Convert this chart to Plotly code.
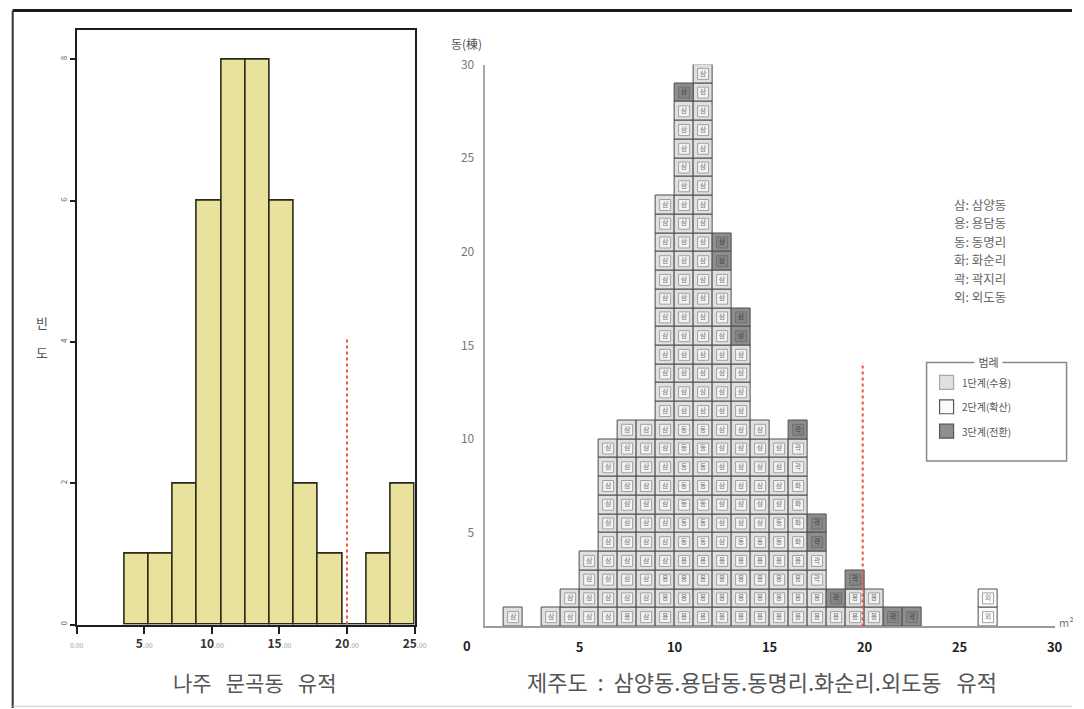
import plotly.graph_objects as go

W, H = 1084, 709
FONT = "Noto Sans CJK KR"

# ---------------- Left: 나주 문곡동 (histogram) ----------------
nj_bin_edges = [3.53, 5.32, 7.11, 8.90, 10.69, 12.48, 14.27, 16.06, 17.85, 19.64, 21.43, 23.22, 25.01]
nj_counts = [1, 1, 2, 6, 8, 8, 6, 2, 1, 0, 1, 2]
nj_xticks = [0, 5, 10, 15, 20, 25]
nj_xtick_main = ["0", "5", "10", "15", "20", "25"]
nj_yticks = [0, 2, 4, 6, 8]
nj_limit_x = 20.0
nj_limit_top = 4.05

# ---------------- Right: 제주도 (stacked unit boxes) ----------------
jeju_bins = [1, 2, 3, 4, 5, 6, 7, 8, 9, 10, 11, 12, 13, 14, 15, 16, 17, 18, 19, 20, 21, 22, 23, 24, 25, 26]
jeju_counts = [1, 0, 1, 2, 4, 10, 11, 11, 23, 29, 30, 21, 17, 11, 10, 11, 6, 2, 3, 2, 1, 1, 0, 0, 0, 2]
# stage of each box, bottom to top (1=수용, 2=확산, 3=전환)
jeju_stage = [
    "1", "", "1", "11", "1111",
    "1111111111",
    "1111111111" "1",
    "1111111111" "1",
    "1111111111" "1111111111" "111",
    "1111111111" "1111111111" "11111111" "3",
    "1111111111" "1111111111" "1111111111",
    "1111111111" "111111111" "33",
    "1111111111" "11111" "33",
    "1111111111" "1",
    "1111111111",
    "1111111111" "3",
    "1111" "33",
    "13",
    "113",
    "11",
    "3",
    "3",
    "", "", "",
    "22",
]
# site initial of each box, bottom to top
jeju_site = [
    "삼", "", "삼", "삼삼", "삼삼삼삼",
    "삼삼삼삼삼" "삼삼삼삼삼",
    "용삼삼삼삼" "삼삼삼삼삼" "삼",
    "삼삼삼삼삼" "삼삼삼삼삼" "삼",
    "용용용삼삼" "삼삼삼삼삼" "삼삼삼삼삼" "삼삼삼삼삼" "삼삼삼",
    "용용용용동" "동동동동동" "동삼삼삼삼" "삼삼삼삼삼" "삼삼삼삼삼" "삼삼삼삼",
    "용용용용동" "동동동동동" "동삼삼삼삼" "삼삼삼삼삼" "삼삼삼삼삼" "삼삼삼삼삼",
    "용용용용삼" "삼삼삼삼삼" "삼삼삼삼삼" "삼삼삼삼삼" "삼",
    "용용용용동" "삼삼삼삼삼" "삼삼삼삼삼" "삼삼",
    "용용용용동" "삼삼삼삼삼" "삼",
    "용용용용동" "동삼삼삼삼",
    "용용용용화" "화화화곽곽" "곽",
    "용용곽곽곽곽",
    "용곽",
    "용용곽",
    "용용",
    "곽",
    "곽",
    "", "", "",
    "외외",
]
jeju_xticks = [5, 10, 15, 20, 25, 30]
jeju_yticks = [5, 10, 15, 20, 25, 30]
jeju_limit_x = 19.9
jeju_limit_top = 14.1

site_key = ["삼: 삼양동", "용: 용담동", "동: 동명리", "화: 화순리", "곽: 곽지리", "외: 외도동"]
stage_names = ["1단계(수용)", "2단계(확산)", "3단계(전환)"]
stage_fill = {"1": "#e0e0e0", "2": "#fbfbfb", "3": "#8e8e8e"}
stage_inner = {"1": "#f3f3f3", "2": "#ffffff", "3": "#858585"}
stage_icon_line = ["#a8a8a8", "#555555", "#555555"]

# page-to-photo calibration (photo = A + B * page)
AX, BX = 6.3, 0.9826
AY, BY = 8.3, 0.988


def px(x):
    return max(0.0, (x - AX) / BX) / W


def py(y):
    return 1 - max(0.5, (y - AY) / BY) / H


fig = go.Figure()

# left histogram bars
centers = [(a + b) / 2 for a, b in zip(nj_bin_edges[:-1], nj_bin_edges[1:])]
widths = [b - a for a, b in zip(nj_bin_edges[:-1], nj_bin_edges[1:])]
fig.add_trace(go.Bar(
    x=centers, y=nj_counts, width=widths,
    marker=dict(color="#e9e29c", line=dict(color="#2a2a1a", width=1.6)),
    xaxis="x", yaxis="y", showlegend=False, hoverinfo="skip",
))
fig.add_trace(go.Scatter(
    x=[nj_limit_x, nj_limit_x], y=[0, nj_limit_top], mode="lines",
    line=dict(color="#e8553c", width=2, dash="dot"),
    xaxis="x", yaxis="y", showlegend=False, hoverinfo="skip",
))

# right: unit boxes
for s in ["1", "2", "3"]:
    xs, bases, texts = [], [], []
    for i, b in enumerate(jeju_bins):
        st = jeju_stage[i]
        si = jeju_site[i]
        for r in range(jeju_counts[i]):
            code = st[r] if r < len(st) else "1"
            if code != s:
                continue
            xs.append(b + 0.5)
            bases.append(r)
            texts.append(si[r] if r < len(si) else "삼")
    if not xs:
        continue
    fig.add_trace(go.Bar(
        x=xs, y=[1] * len(xs), base=bases, width=1.0,
        marker=dict(color=stage_fill[s], line=dict(color="#4d4d4d", width=1)),
        xaxis="x2", yaxis="y2", showlegend=False, hoverinfo="skip",
    ))
    fig.add_trace(go.Scatter(
        x=xs, y=[bb + 0.5 for bb in bases], mode="markers+text",
        text=texts, textposition="middle center",
        textfont=dict(family=FONT, size=7, color="#7a7a7a" if s != "3" else "#444"),
        marker=dict(symbol="square", size=11, color=stage_inner[s],
                    line=dict(color="#a0a0a0" if s != "3" else "#707070", width=1)),
        xaxis="x2", yaxis="y2", showlegend=False, hoverinfo="skip",
    ))

fig.add_trace(go.Scatter(
    x=[jeju_limit_x, jeju_limit_x], y=[0, jeju_limit_top], mode="lines",
    line=dict(color="#e8553c", width=2, dash="dot"),
    xaxis="x2", yaxis="y2", showlegend=False, hoverinfo="skip",
))

nj_ticktext = []
for t in nj_xtick_main:
    if t == "0":
        nj_ticktext.append("<span style='font-size:7px;color:#999'>0.00</span>")
    else:
        nj_ticktext.append("<b>%s</b><span style='font-size:7px;color:#999'>.00</span>" % t)

fig.update_layout(
    width=W, height=H, margin=dict(l=0, r=0, t=0, b=0),
    paper_bgcolor="white", plot_bgcolor="white",
    barmode="overlay", bargap=0,
    font=dict(family=FONT, color="#444"),
    xaxis=dict(domain=[px(76), px(414)], range=[0, 25], showgrid=False, zeroline=False,
               showline=True, linecolor="#1e1e1e", linewidth=2, mirror=True,
               ticks="outside", ticklen=7, tickwidth=2, tickcolor="#1e1e1e",
               tickvals=nj_xticks, ticktext=nj_ticktext,
               tickfont=dict(family=FONT, size=12, color="#333")),
    yaxis=dict(domain=[py(625), py(28)], range=[0, 8.42], showgrid=False, zeroline=False,
               showline=True, linecolor="#1e1e1e", linewidth=2, mirror=True,
               ticks="outside", ticklen=5, tickwidth=2, tickcolor="#1e1e1e",
               tickvals=nj_yticks, tickangle=-90,
               tickfont=dict(family=FONT, size=8, color="#666")),
    xaxis2=dict(domain=[px(484), px(1054)], range=[0, 30], showgrid=False, zeroline=False,
                showline=True, linecolor="#9a9a9a", linewidth=2,
                ticks="outside", ticklen=8, tickcolor="rgba(0,0,0,0)",
                tickvals=jeju_xticks, ticktext=["<b>%d</b>" % v for v in jeju_xticks],
                tickfont=dict(family=FONT, size=13, color="#222"), anchor="y2"),
    yaxis2=dict(domain=[py(627), py(63)], range=[0, 30], showgrid=False, zeroline=False,
                showline=True, linecolor="#a8a8a8", linewidth=2,
                ticks="outside", ticklen=6, tickcolor="rgba(0,0,0,0)",
                tickvals=jeju_yticks,
                tickfont=dict(family=FONT, size=12, color="#777"), anchor="x2"),
)


def note(x, y, text, size, color="#555", xanchor="center", **kw):
    d = dict(xref="paper", yref="paper", x=px(x), y=py(y), text=text, showarrow=False,
             xanchor=xanchor, yanchor="middle", font=dict(family=FONT, size=size, color=color))
    d.update(kw)
    return d


ann = []
ann.append(note(254, 683, "나주   문곡동   유적", 21))
ann.append(note(761, 682, "제주도  :  삼양동.용담동.동명리.화순리.외도동   유적", 22))
ann.append(note(41, 322, "빈", 13))
ann.append(note(41, 352, "도", 13))
ann.append(note(466, 42, "동(棟)", 12))
ann.append(note(466, 646, "<b>0</b>", 13, color="#222"))
ann.append(note(1066, 622, "m²", 11, color="#777"))
for k, line in enumerate(site_key):
    ann.append(note(951, 203 + 18.6 * k, line, 12.5, color="#666", xanchor="left"))
ann.append(note(988, 362, " 범례 ", 11, bgcolor="white"))

shapes = [
    dict(type="rect", xref="paper", yref="paper", x0=px(926), x1=px(1066), y0=py(461), y1=py(362),
         line=dict(color="#888", width=1.5), fillcolor="rgba(0,0,0,0)", layer="below"),
    dict(type="line", xref="paper", yref="paper", x0=px(12), x1=1, y0=py(7), y1=py(7),
         line=dict(color="#1a1a1a", width=3)),
    dict(type="line", xref="paper", yref="paper", x0=px(12), x1=px(12), y0=py(7), y1=0,
         line=dict(color="#333", width=2)),
    dict(type="line", xref="paper", yref="paper", x0=px(12), x1=1, y0=py(707), y1=py(707),
         line=dict(color="#c8c8c8", width=1)),
]
for k, name in enumerate(stage_names):
    yc = 382 + 24.5 * k
    code = str(k + 1)
    shapes.append(dict(type="rect", xref="paper", yref="paper", x0=px(939), x1=px(953),
                       y0=py(yc + 7), y1=py(yc - 7),
                       line=dict(color=stage_icon_line[k], width=1.2), fillcolor=stage_fill[code]))
    ann.append(note(959, yc, name, 10, xanchor="left"))

fig.update_layout(annotations=ann, shapes=shapes)
fig.write_html(
    "out.html",
    config={"displayModeBar": False},
    post_script="document.body.style.margin='0';document.body.style.overflow='hidden';",
)
